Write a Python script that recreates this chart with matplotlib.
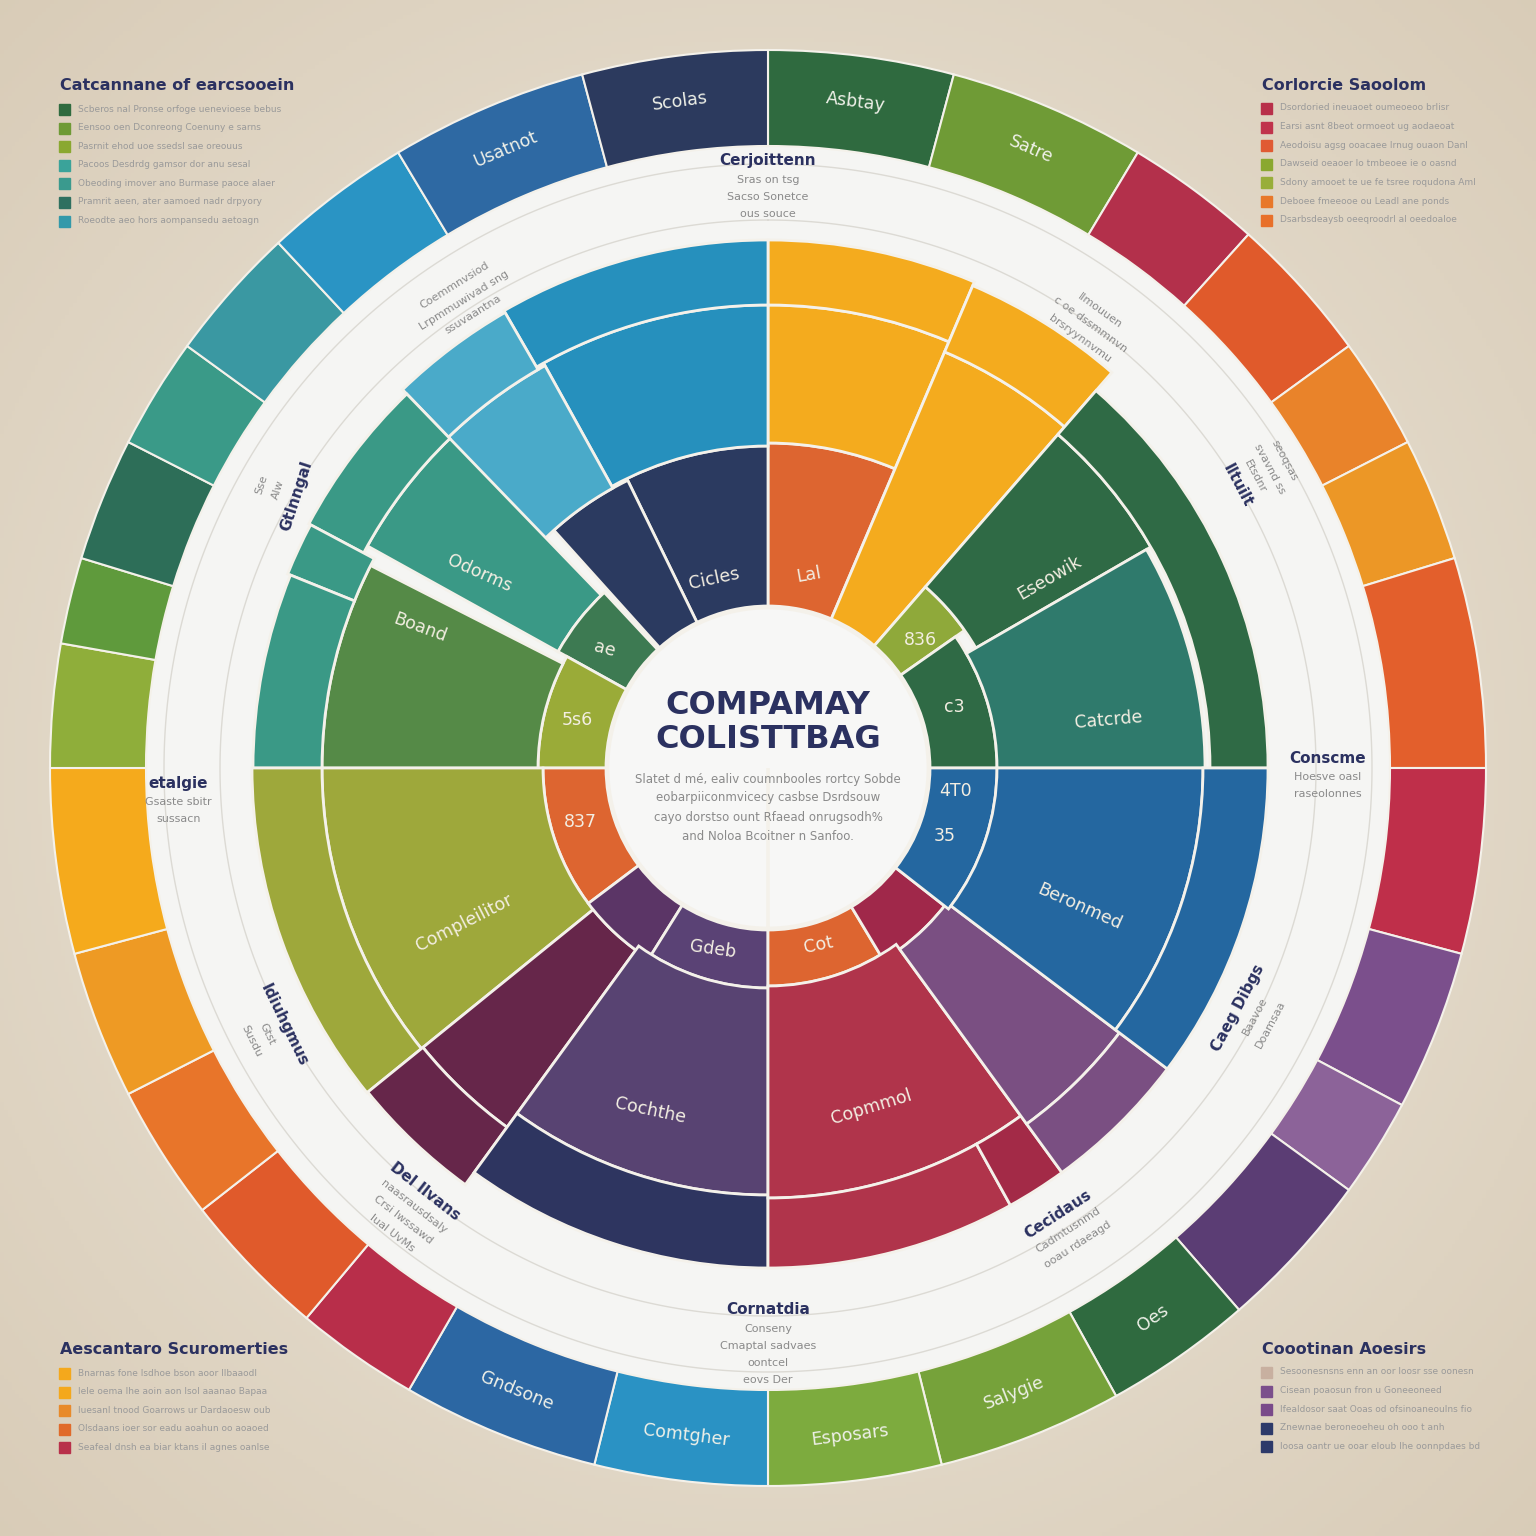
import numpy as np
import matplotlib
matplotlib.use("Agg")
import matplotlib.pyplot as plt

# ---- data -------------------------------------------------------------
# outer ring: segment edges in degrees, clockwise from 12 o'clock
ring_edges = [0, 15, 31, 42, 54, 63, 73, 90, 105, 118, 126, 139, 151, 166, 180,
              194, 210, 220, 232, 243, 255, 270, 280, 287, 297, 306, 317, 329, 345, 360]
ring_colors = ["#2f6a3f", "#6f9b36", "#b3304b", "#e05a2b", "#e9832a", "#ec9726",
               "#e35f2c", "#bf2f4a", "#7b4f8c", "#8c6399", "#5b3d74", "#2f6a3f",
               "#76a23a", "#7dab3e", "#2a92c4", "#2c67a3", "#b82e4a", "#e05a2b",
               "#e8752a", "#ee9a24", "#f5aa1c", "#8fae3a", "#5f9a3c", "#2d6e58",
               "#3a9a88", "#3a98a2", "#2a94c4", "#2e69a3", "#2c3a5e"]
ring_labels = {0: "Asbtay", 1: "Satre", 11: "Oes", 12: "Salygie", 13: "Esposars",
               14: "Comtgher", 15: "Gndsone", 27: "Usatnot", 28: "Scolas"}

# inner wedges: start / end angle and inner / outer value
seg_start = [0, 0, 0, 23, 23, 41, 41, 41, 55, 60,
             334, 318, 331, 330, 315, 316, 299, 298, 299, 270, 270, 292, 270,
             233, 231, 231, 216, 216, 212, 180, 180, 180,
             149, 128, 144, 151, 144, 127, 127, 90, 90, 90]
seg_end = [23, 23, 23, 41, 41, 55, 60, 90, 90, 90,
           360, 334, 360, 360, 331, 330, 316, 316, 317, 299, 297, 298, 292,
           270, 270, 270, 231, 231, 233, 212, 216, 216,
           180, 149, 180, 180, 151, 144, 144, 128, 127, 127]
seg_lo = [162, 325, 463, 162, 452, 162, 240, 442, 162, 229,
          162, 162, 322, 463, 320, 460, 240, 458, 162, 162, 230, 446, 446,
          162, 225, 446, 225, 444, 162, 162, 220, 427,
          162, 162, 218, 430, 430, 224, 440, 162, 229, 435]
seg_hi = [325, 463, 528, 452, 524, 240, 442, 500, 229, 437,
          322, 320, 463, 528, 460, 526, 458, 520, 240, 230, 446, 518, 515,
          225, 446, 516, 444, 515, 225, 220, 427, 500,
          218, 224, 430, 500, 500, 440, 500, 229, 435, 500]
seg_colors = ["#dd6530", "#f4ab1e", "#f4ab1e", "#f4ab1e", "#f4ab1e", "#8fa93a",
              "#2f6a45", "#2f6a45", "#2f6a45", "#2f7a6c",
              "#2b3a60", "#2b3a60", "#2690bd", "#2690bd", "#4aaac9", "#4aaac9",
              "#3a9986", "#3a9986", "#3d7a52", "#9aab38", "#558a47", "#3a9986", "#3a9986",
              "#dd6530", "#9ea83b", "#9ea83b", "#66264a", "#66264a", "#5b3566",
              "#5a4275", "#584372", "#2e3560",
              "#dd6530", "#a0284a", "#b0344b", "#b0344b", "#a32a47", "#7a4f82",
              "#7a4f82", "#2467a0", "#2467a0", "#2467a0"]

# wedge labels: text, angle, radius, rotation
wedge_labels = [("Lal", 12, 197, 10), ("836", 50, 199, 0), ("Eseowik", 56, 340, 30),
                ("c3", 72, 196, 0), ("Catcrde", 82, 344, 5), ("4T0", 97, 189, 0),
                ("35", 111, 189, 0), ("Beronmed", 114, 341, -24), ("Cot", 164, 184, 12),
                ("Copmmol", 163, 355, 17), ("Cochthe", 199, 362, -12), ("Gdeb", 197, 190, -8),
                ("Compleilitor", 243, 341, 27), ("837", 254, 195, 0), ("5s6", 284, 197, 0),
                ("Boand", 292, 375, -20), ("Odorms", 304, 348, -24), ("ae", 306, 202, -15),
                ("Cicles", 344, 197, 12)]

# annotations in the white band: title, sub lines, angle, radius, rotation, stack side
band_notes = [
    ("Cerjoittenn", ["Sras on tsg", "Sacso Sonetce", "ous souce"], 0, 607, 0, 1),
    ("", ["Ilmouuen", "c oe dssmmnvn", "brsryynnvmu"], 36, 565, -36, 1),
    ("Iltuilt", ["Etsdnr", "svavnd ss", "seoqsas"], 59, 548, -62, -1),
    ("Conscme", ["Hoesve oasl", "raseolonnes"], 89, 560, 0, 1),
    ("Caeg Dibgs", ["Baavoe", "Doamsaa"], 117, 528, 62, 1),
    ("Cecidaus", ["Cadmtusnmd", "ooau rdaeagd"], 147, 532, 33, 1),
    ("Cornatdia", ["Conseny", "Cmaptal sadvaes", "oontcel", "eovs Der"], 180, 542, 0, 1),
    ("Del Ilvans", ["naasrausdsaly", "Crsi Iwssawd", "lual UvMs"], 219, 545, -38, 1),
    ("Idiuhgmus", ["Gtst", "Susdu"], 242, 548, -64, 1),
    ("etalgie", ["Gsaste sbitr", "sussacn"], 268.5, 590, 0, 1),
    ("Gtlnngal", ["Alw", "Sse"], 300, 545, 72, -1),
    ("", ["Coemmnvsiod", "Lrpmmuwivad sng", "ssuvaantna"], 327, 575, 32, 1),
]

# corner legends
legend_titles = ["Catcannane of earcsooein", "Corlorcie Saoolom",
                 "Aescantaro Scuromerties", "Coootinan Aoesirs"]
legend_colors = [
    ["#2f6b3f", "#6e9a35", "#8aa830", "#3aa39a", "#3a9a8e", "#2e7060", "#3399aa"],
    ["#b8304a", "#c0334c", "#e05a33", "#8aa830", "#98ae3a", "#e8782a", "#e8702a"],
    ["#f4a81c", "#f4a81c", "#e88a2a", "#e06a2a", "#b8304a"],
    ["#c8b0a0", "#7b4f8c", "#7a4a8a", "#2d3a6a", "#2d3a6a"],
]
legend_items = [
    ["Scberos nal Pronse orfoge uenevioese bebus", "Eensoo oen Dconreong Coenuny e sarns",
     "Pasrnit ehod uoe ssedsl sae oreouus", "Pacoos Desdrdg gamsor dor anu sesal",
     "Obeoding imover ano Burmase paoce alaer", "Pramrit aeen, ater aamoed nadr drpyory",
     "Roeodte aeo hors aompansedu aetoagn"],
    ["Dsordoried ineuaoet oumeoeoo brlisr", "Earsi asnt 8beot ormoeot ug aodaeoat",
     "Aeodoisu agsg ooacaee lrnug ouaon Danl", "Dawseid oeaoer lo tmbeoee ie o oasnd",
     "Sdony amooet te ue fe tsree roqudona Aml", "Deboee fmeeooe ou Leadl ane ponds",
     "Dsarbsdeaysb oeeqroodrl al oeedoaloe"],
    ["Bnarnas fone Isdhoe bson aoor Ilbaaodl", "Iele oema Ihe aoin aon Isol aaanao Bapaa",
     "Iuesanl tnood Goarrows ur Dardaoesw oub", "Olsdaans ioer sor eadu aoahun oo aoaoed",
     "Seafeal dnsh ea biar ktans il agnes oanlse"],
    ["Sesoonesnsns enn an oor Ioosr sse oonesn", "Cisean poaosun fron u Goneeoneed",
     "Ifealdosor saat Ooas od ofsinoaneoulns fio", "Znewnae beroneoeheu oh ooo t anh",
     "loosa oantr ue ooar eloub Ihe oonnpdaes bd"],
]

title_lines = ["COMPAMAY", "COLISTTBAG"]
subtitle_lines = ["Slatet d mé, ealiv coumnbooles rortcy Sobde",
                  "eobarpiiconmvicecy casbse Dsrdsouw",
                  "cayo dorstso ount Rfaead onrugsodh%",
                  "and Noloa Bcoitner n Sanfoo."]

NAVY = "#2b3160"
GRAY = "#8a8a8a"
EDGE = "#f4f1ea"
W = 1536.0

# ---- figure -----------------------------------------------------------
fig = plt.figure(figsize=(15.36, 15.36), dpi=100)

# beige radial background
bg = fig.add_axes([0, 0, 1, 1])
yy, xx = np.mgrid[-1:1:400j, -1:1:400j]
d = np.clip(np.sqrt(xx ** 2 + yy ** 2) / 1.414, 0, 1)[..., None]
inner = np.array([0.94, 0.92, 0.88])
outer = np.array([0.85, 0.80, 0.72])
bg.imshow(inner * (1 - d) + outer * d, extent=[0, 1, 0, 1], aspect="auto")
bg.axis("off")

ax = fig.add_axes([0, 0, 1, 1], projection="polar")
ax.set_theta_zero_location("N")
ax.set_theta_direction(-1)
ax.set_ylim(0, 768)
ax.axis("off")
ax.patch.set_alpha(0)

# white disk
ax.bar(0, 622, width=2 * np.pi, bottom=0, color="#f5f5f3", linewidth=0)

# guide circles in the band
th = np.linspace(0, 2 * np.pi, 400)
for rr in (548, 604):
    ax.plot(th, np.full_like(th, rr), color="#dcdad4", lw=1.0)

# outer ring
for i, c in enumerate(ring_colors):
    a0, a1 = ring_edges[i], ring_edges[i + 1]
    ax.bar(np.deg2rad((a0 + a1) / 2), 96, width=np.deg2rad(a1 - a0), bottom=622,
           color=c, edgecolor=EDGE, linewidth=1.5)
for i, lab in ring_labels.items():
    mid = (ring_edges[i] + ring_edges[i + 1]) / 2
    rot = -mid if (mid <= 90 or mid >= 270) else 180 - mid
    ax.text(np.deg2rad(mid), 672, lab, rotation=rot, rotation_mode="anchor",
            ha="center", va="center", fontsize=12.5, color="#eef0e8")

# inner wedges
for a0, a1, lo, hi, c in zip(seg_start, seg_end, seg_lo, seg_hi, seg_colors):
    ax.bar(np.deg2rad((a0 + a1) / 2), hi - lo, width=np.deg2rad(a1 - a0), bottom=lo,
           color=c, edgecolor=EDGE, linewidth=2.0)

for txt, a, r, rot in wedge_labels:
    ax.text(np.deg2rad(a), r, txt, rotation=rot, rotation_mode="anchor",
            ha="center", va="center", fontsize=12.5, color="#f3eee2")

# centre disk
ax.bar(0, 160, width=2 * np.pi, bottom=0, color="#f7f7f6", edgecolor=EDGE, linewidth=2)

# band notes, stacked line by line in the text's own frame
for head, lines, a, r, rot, side in band_notes:
    t = np.deg2rad(a)
    x = W / 2 + r * np.sin(t)
    y = W / 2 + r * np.cos(t)
    phi = np.deg2rad(rot)
    dx, dy = np.sin(phi) * side, -np.cos(phi) * side
    step = 0
    if head:
        fig.text(x / W, y / W, head, rotation=rot, rotation_mode="anchor",
                 ha="center", va="center", fontsize=11, fontweight="bold", color=NAVY)
        step = 19
    for ln in lines:
        fig.text((x + dx * step) / W, (y + dy * step) / W, ln, rotation=rot,
                 rotation_mode="anchor", ha="center", va="center", fontsize=8, color=GRAY)
        step += 17

# centre title
fig.text(0.5, 1 - 705 / W, title_lines[0], ha="center", va="center",
         fontsize=23, fontweight="bold", color=NAVY)
fig.text(0.5, 1 - 740 / W, title_lines[1], ha="center", va="center",
         fontsize=23, fontweight="bold", color=NAVY)
for k, ln in enumerate(subtitle_lines):
    fig.text(0.5, 1 - (779 + 19 * k) / W, ln, ha="center", va="center",
             fontsize=8.5, color=GRAY)

# corner legends
corners = [(60, 86, 109), (1262, 86, 108), (60, 1350, 1373), (1262, 1350, 1372)]
for (x0, ty, iy), title, cols, items in zip(corners, legend_titles, legend_colors, legend_items):
    fig.text(x0 / W, 1 - ty / W, title, ha="left", va="center",
             fontsize=11.5, fontweight="bold", color=NAVY)
    for k, (c, it) in enumerate(zip(cols, items)):
        yk = iy + k * 18.6
        fig.patches.append(plt.Rectangle(((x0 - 1) / W, 1 - (yk + 6) / W),
                                         11 / W, 11 / W, color=c,
                                         transform=fig.transFigure, figure=fig))
        fig.text((x0 + 18) / W, 1 - yk / W, it, ha="left", va="center",
                 fontsize=6.5, color="#9a9a9a")

fig.savefig("out.png", dpi=100)
